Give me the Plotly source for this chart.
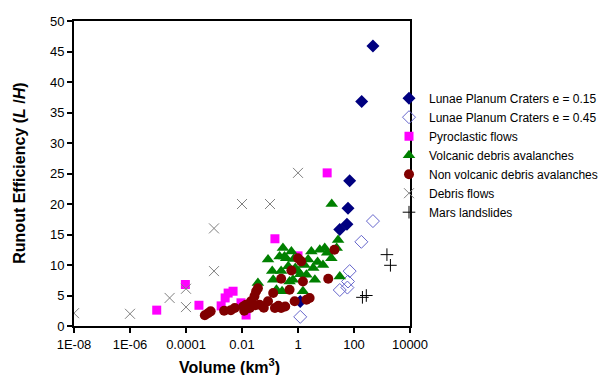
import plotly.graph_objects as go

# ---- data (volume km^3, runout efficiency L/H) ----
lp015_vol = [1.2, 31, 56, 61, 70, 188, 475]
lp015_lh = [4.0, 15.8, 16.7, 19.3, 23.8, 36.8, 45.9]

lp045_vol = [1.2, 31, 58, 61, 70, 183, 475]
lp045_lh = [1.5, 5.9, 6.3, 7.3, 9.0, 13.8, 17.2]

pyro_vol = [9e-6, 9.5e-5, 2.9e-4, 1.8e-3, 2.5e-3, 3.2e-3, 4.8e-3, 9.2e-3, 0.014, 0.15, 1.0, 11]
pyro_lh = [2.6, 6.8, 3.4, 3.3, 4.6, 5.4, 5.7, 3.8, 1.8, 14.3, 11.5, 25.1]

volc_vol = [16, 27, 24, 9, 7.8, 15.5, 31, 3, 2.3, 1.7, 4, 1.5, 1.2, 0.58, 0.29,
            0.33, 0.22, 0.38, 0.085, 0.25, 0.66, 0.13, 0.037, 0.17, 0.27, 0.5,
            0.8, 2.0, 3.5, 5, 0.45, 0.12, 11, 6, 1.0, 0.7]
volc_lh = [20.0, 14.1, 12.8, 12.8, 10.0, 11.1, 8.1, 12.2, 10.9, 10.0, 7.6, 5.7, 8.5, 12.2, 12.8,
           11.4, 11.4, 11.1, 10.9, 9.0, 7.6, 7.6, 7.05, 5.95, 5.7, 7.3,
           9.5, 8.4, 9.5, 10.5, 9.8, 9.0, 12.0, 12.5, 9.0, 11.0]

nonv_vol = [4.7e-4, 6.1e-4, 7.6e-4, 2.3e-3, 5.5e-3, 0.011, 0.014, 0.019, 0.021, 0.028,
            0.032, 0.037, 0.042, 0.085, 0.15, 0.25, 0.13, 0.58, 0.25, 0.76,
            2.0, 2.6, 0.5, 1.5, 12, 20, 1.0, 1.3, 0.06, 0.35, 0.012, 0.004, 0.03, 0.2]
nonv_lh = [1.75, 2.1, 2.4, 2.5, 2.95, 3.2, 3.5, 2.95, 4.05, 4.9,
           5.7, 6.2, 3.5, 4.05, 2.95, 2.95, 5.4, 9.1, 7.75, 4.05,
           4.3, 4.6, 5.95, 7.3, 7.75, 12.5, 11.1, 10.6, 3.0, 3.2, 2.5, 2.6, 3.4, 3.3]

debris_vol = [1e-8, 1e-6, 2.6e-5, 1e-4, 1e-4, 1e-3, 1e-3, 0.01, 0.1, 1.0]
debris_lh = [2.1, 2.0, 4.6, 6.1, 3.1, 9.0, 16.0, 20.0, 20.0, 25.1]

mars_vol = [200, 275, 1500, 2000]
mars_lh = [4.7, 5.0, 11.7, 9.95]

x_tickvals = [1e-8, 1e-6, 1e-4, 1e-2, 1, 100, 1e4]
x_ticktext = ["1E-08", "1E-06", "0.0001", "0.01", "1", "100", "10000"]

fig = go.Figure()

def add(name, xs, ys, symbol, color, size, lw=0, lc=None):
    fig.add_trace(go.Scatter(
        x=xs, y=ys, mode="markers", name=name,
        marker=dict(symbol=symbol, color=color, size=size,
                    line=dict(width=lw, color=lc if lc else color)),
    ))

add("Lunae Planum Craters e = 0.15", lp015_vol, lp015_lh, "diamond", "#000080", 10)
add("Lunae Planum Craters e = 0.45", lp045_vol, lp045_lh, "diamond-open", "#6666cc", 10, 1)
add("Pyroclastic flows", pyro_vol, pyro_lh, "square", "#ff00ff", 9)
add("Volcanic debris avalanches", volc_vol, volc_lh, "triangle-up", "#008000", 11)
add("Non volcanic debris avalanches", nonv_vol, nonv_lh, "circle", "#800000", 10)
add("Debris flows", debris_vol, debris_lh, "x-thin-open", "#808080", 10, 1)
add("Mars landslides", mars_vol, mars_lh, "cross-thin-open", "#000000", 9, 1)

fig.update_layout(
    width=613, height=375,
    margin=dict(l=66, r=211, t=13, b=57, autoexpand=False),
    paper_bgcolor="white", plot_bgcolor="white",
    font=dict(family="Liberation Sans, Arial, sans-serif", size=13, color="black"),
    showlegend=True,
    legend=dict(x=0.9375, xanchor="left", y=0.56, yanchor="middle",
                font=dict(size=12), itemwidth=30, tracegroupgap=0,
                bgcolor="rgba(0,0,0,0)"),
    xaxis=dict(type="log", range=[-8, 4], tickvals=x_tickvals, ticktext=x_ticktext,
               showgrid=False, zeroline=False, showline=True, linecolor="black",
               linewidth=2, mirror=True, ticks="outside", ticklen=5, tickwidth=2,
               tickcolor="black"),
    yaxis=dict(range=[0, 50], dtick=5, showgrid=False, zeroline=False,
               showline=True, linecolor="black", linewidth=2, mirror=True,
               ticks="outside", ticklen=5, tickwidth=2, tickcolor="black"),
    annotations=[
        dict(text="<b>Runout Efficiency (<i>L</i> /<i>H</i>)</b>", textangle=-90,
             xref="paper", yref="paper", x=-0.163, y=0.5, xanchor="center",
             yanchor="middle", showarrow=False, font=dict(size=16)),
        dict(text="<b>Volume (km<sup>3</sup>)</b>", xref="paper", yref="paper",
             x=0.462, y=-0.131, xanchor="center", yanchor="middle",
             showarrow=False, font=dict(size=16)),
    ],
)

fig.write_html("out.html")
